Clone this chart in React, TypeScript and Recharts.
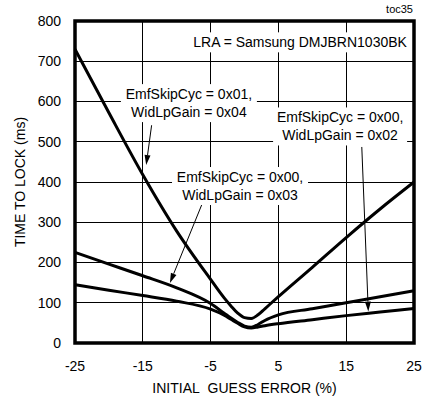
import React from "react"
import { LineChart, Line, XAxis, YAxis, CartesianGrid, ReferenceLine, ReferenceDot, ReferenceArea, Label } from "recharts"

// initial guess error (%) sample points
const errors = [-25, -20, -15, -10, -5, -3, -2, -1, 0, 1, 2, 3, 5, 10, 15, 20, 25]
// time to lock (ms)
const skip01gain04 = [730, 572, 418, 278, 158, 112, 92, 74, 63, 61, 70, 85, 115, 188, 262, 333, 400]
const skip00gain03 = [225, 196, 167, 137, 98, 74, 62, 51, 42, 39, 46, 56, 70, 85, 100, 115, 130]
const skip00gain02 = [145, 131, 118, 104, 84, 69, 59, 49, 40, 37, 40, 43, 48, 58, 68, 77, 86]

const xTicks = [-25, -15, -5, 5, 15, 25]
const yTicks = [0, 100, 200, 300, 400, 500, 600, 700, 800]

const notes = [
  { x: 8.2, y: 747, lines: ["LRA = Samsung DMJBRN1030BK"], w: 218 },
  { x: -8.2, y: 596, lines: ["EmfSkipCyc = 0x01,", "WidLpGain = 0x04"], w: 136 },
  { x: 14.1, y: 538, lines: ["EmfSkipCyc = 0x00,", "WidLpGain = 0x02"], w: 134 },
  { x: -0.66, y: 390, lines: ["EmfSkipCyc = 0x00,", "WidLpGain = 0x03"], w: 136 },
]

const arrows = [
  { x1: -13.7, y1: 541, x2: -14.5, y2: 442 },
  { x1: -5.93, y1: 359, x2: -11.0, y2: 149 },
  { x1: 17.3, y1: 487, x2: 18.26, y2: 78 },
]

const data = errors.map((e, i) => ({
  err: e,
  a: skip01gain04[i],
  b: skip00gain03[i],
  c: skip00gain02[i],
}))

const font = "'Liberation Sans', Arial, sans-serif"

function NoteBox({ cx, cy, lines, w }: any) {
  const lh = 18
  const h = lines.length * lh + 2
  return (
    <g>
      <rect x={cx - w / 2} y={cy - h / 2} width={w} height={h} fill="#fff" />
      <text textAnchor="middle" fontSize={14} fontFamily={font} fill="#000">
        {lines.map((l: string, i: number) => (
          <tspan key={i} x={cx} y={cy + (i - (lines.length - 1) / 2) * lh} dy="0.36em">
            {l}
          </tspan>
        ))}
      </text>
    </g>
  )
}

function Arrow(p: any) {
  const { x1, y1, x2, y2 } = p
  const ang = Math.atan2(y2 - y1, x2 - x1)
  const len = 10
  const half = 3
  const bx = x2 - len * Math.cos(ang)
  const by = y2 - len * Math.sin(ang)
  const px = -Math.sin(ang) * half
  const py = Math.cos(ang) * half
  return (
    <g>
      <line x1={x1} y1={y1} x2={bx} y2={by} stroke="#000" strokeWidth={1} />
      <polygon points={`${x2},${y2} ${bx + px},${by + py} ${bx - px},${by - py}`} fill="#000" />
    </g>
  )
}

export default function App() {
  return (
    <div style={{ position: "absolute", left: 0, top: 0, fontFamily: font, background: "#fff" }}>
      <LineChart width={422} height={399} data={data} margin={{ top: 21, right: 8, bottom: 0, left: 0 }}>
        <CartesianGrid stroke="#000" strokeWidth={1} shapeRendering="crispEdges" />
        <XAxis
          dataKey="err"
          type="number"
          domain={[-25, 25]}
          ticks={xTicks}
          height={56}
          axisLine={false}
          tickLine={false}
          tickSize={0}
          tickMargin={18}
          tick={{ fill: "#000", fontSize: 14 }}
        >
          <Label value={"INITIAL\u00A0 GUESS ERROR (%)"} position="insideBottom" offset={6} fill="#000" fontSize={14} />
        </XAxis>
        <YAxis
          type="number"
          domain={[0, 800]}
          ticks={yTicks}
          width={75}
          axisLine={false}
          tickLine={false}
          tickSize={0}
          tickMargin={14}
          tick={{ fill: "#000", fontSize: 14 }}
        >
          <Label
            value="TIME TO LOCK (ms)"
            angle={-90}
            position="insideLeft"
            offset={20}
            fill="#000"
            fontSize={14}
            style={{ textAnchor: "middle" }}
          />
        </YAxis>
        <ReferenceArea x1={-25} x2={25} y1={0} y2={800} fill="none" stroke="#000" strokeWidth={3.5} ifOverflow="visible" />
        {notes.map((n, i) => (
          <ReferenceDot
            key={"n" + i}
            x={n.x}
            y={n.y}
            r={1}
            ifOverflow="visible"
            shape={(p: any) => <NoteBox cx={p.cx} cy={p.cy} lines={n.lines} w={n.w} />}
          />
        ))}
        <ReferenceDot
          x={25}
          y={800}
          r={1}
          ifOverflow="visible"
          shape={(p: any) => (
            <text x={p.cx - 1} y={p.cy - 8} textAnchor="end" fontSize={11} fontFamily={font} fill="#000">
              toc35
            </text>
          )}
        />
        <Line type="monotone" dataKey="a" stroke="#000" strokeWidth={3} dot={false} isAnimationActive={false} />
        <Line type="monotone" dataKey="b" stroke="#000" strokeWidth={3} dot={false} isAnimationActive={false} />
        <Line type="monotone" dataKey="c" stroke="#000" strokeWidth={3} dot={false} isAnimationActive={false} />
        {arrows.map((a, i) => (
          <ReferenceLine
            key={"a" + i}
            segment={[{ x: a.x1, y: a.y1 }, { x: a.x2, y: a.y2 }]}
            ifOverflow="visible"
            shape={(p: any) => <Arrow {...p} />}
          />
        ))}
      </LineChart>
    </div>
  )
}
